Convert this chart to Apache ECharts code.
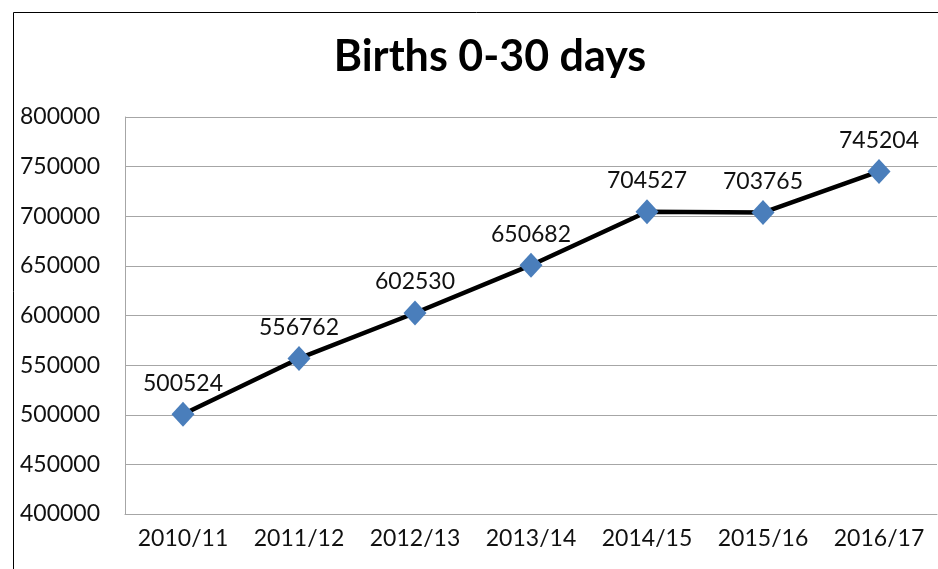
<!DOCTYPE html>
<html><head><meta charset="utf-8">
<script src="https://cdn.jsdelivr.net/npm/echarts@6/dist/echarts.min.js"></script>
<style>html,body{margin:0;padding:0;background:#fff}#c{width:938px;height:569px}</style>
</head><body><div id="c"></div>
<script>
const titleText = "Births 0-30 days";
const categories = ["2010/11","2011/12","2012/13","2013/14","2014/15","2015/16","2016/17"];
const births = [500524, 556762, 602530, 650682, 704527, 703765, 745204];
const yMin = 400000, yMax = 800000, yStep = 50000;

const FONT = "Lato";
const chart = echarts.init(document.getElementById('c'), null, {renderer:'canvas'});
chart.setOption({
  animation: false,
  backgroundColor: '#fff',
  graphic: [{
    type: 'rect', silent: true,
    shape: {x: 13.5, y: 12.5, width: 1000, height: 1000},
    style: {fill: 'none', stroke: '#000', lineWidth: 1}
  }],
  title: {
    text: titleText, left: 485, textAlign: 'center', top: 31,
    textStyle: {fontFamily: FONT, fontWeight: 'bold', fontSize: 43, color: '#000'}
  },
  grid: {left: 125, right: 1, top: 117, bottom: 55, containLabel: false},
  xAxis: {
    type: 'category', data: categories, boundaryGap: true,
    axisLine: {show: true, lineStyle: {color: '#a6a6a6', width: 1}},
    axisTick: {show: false},
    axisLabel: {interval: 0, hideOverlap: false, fontFamily: FONT, fontSize: 23, color: '#111', margin: 13}
  },
  yAxis: {
    type: 'value', min: yMin, max: yMax, interval: yStep,
    axisLine: {show: true, lineStyle: {color: '#a6a6a6', width: 1}},
    axisTick: {show: false},
    splitLine: {lineStyle: {color: '#a6a6a6', width: 1}},
    axisLabel: {fontFamily: FONT, fontSize: 23, color: '#111', margin: 25,
      formatter: v => String(v)}
  },
  series: [{
    type: 'line', data: births,
    symbol: 'diamond', symbolSize: [23, 25],
    itemStyle: {color: '#4a7ebb'},
    lineStyle: {color: '#000', width: 4.5},
    label: {show: true, position: 'top', distance: 7, fontFamily: FONT, fontSize: 23, color: '#111'}
  }]
});
</script></body></html>
